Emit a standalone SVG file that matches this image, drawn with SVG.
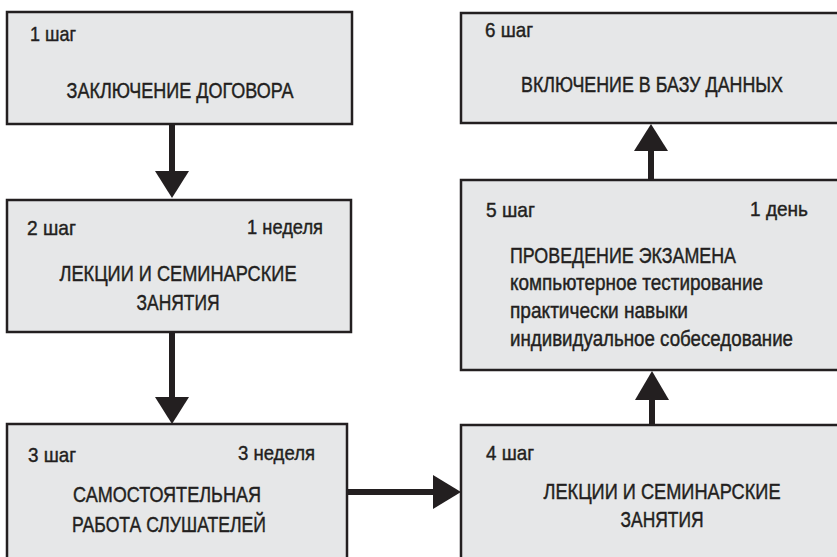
<svg xmlns="http://www.w3.org/2000/svg" width="837" height="557" viewBox="0 0 837 557">
<style>
.box{fill:#e6e7e8;stroke:#231f20;stroke-width:2.5}
.t{font-family:"Liberation Sans",Arial,sans-serif;font-size:22.5px;fill:#231f20;stroke:#231f20;stroke-width:0.45}
.s{font-family:"Liberation Sans",Arial,sans-serif;font-size:20px;fill:#231f20;stroke:#231f20;stroke-width:0.4}
.m{text-anchor:middle}
.e{text-anchor:end}
.shaft{stroke:#231f20;stroke-width:6;fill:none}
.head{fill:#231f20}
</style>
<rect width="837" height="557" fill="#ffffff"/>
<g id="step1">
<rect class="box" x="7" y="12" width="345" height="112"/>
<text class="s" transform="translate(30,41) scale(0.85,1)" textLength="54.1" lengthAdjust="spacingAndGlyphs">1 шаг</text>
<text class="t m" transform="translate(180,97.5) scale(0.8,1)" textLength="283.75" lengthAdjust="spacingAndGlyphs">ЗАКЛЮЧЕНИЕ ДОГОВОРА</text>
</g>
<g id="step2">
<rect class="box" x="7" y="200" width="344" height="132"/>
<text class="s" transform="translate(27,235) scale(0.85,1)" textLength="57.6" lengthAdjust="spacingAndGlyphs">2 шаг</text>
<text class="s e" transform="translate(323,234) scale(0.85,1)" textLength="89.4" lengthAdjust="spacingAndGlyphs">1 неделя</text>
<text class="t m" transform="translate(178,281) scale(0.8,1)" textLength="296.25" lengthAdjust="spacingAndGlyphs">ЛЕКЦИИ И СЕМИНАРСКИЕ</text>
<text class="t m" transform="translate(178,310) scale(0.8,1)" textLength="103.75" lengthAdjust="spacingAndGlyphs">ЗАНЯТИЯ</text>
</g>
<g id="step3">
<rect class="box" x="7" y="424" width="340" height="150"/>
<text class="s" transform="translate(28,462) scale(0.85,1)" textLength="56.5" lengthAdjust="spacingAndGlyphs">3 шаг</text>
<text class="s e" transform="translate(315,460) scale(0.85,1)" textLength="90.6" lengthAdjust="spacingAndGlyphs">3 неделя</text>
<text class="t m" transform="translate(167,502) scale(0.8,1)" textLength="235" lengthAdjust="spacingAndGlyphs">САМОСТОЯТЕЛЬНАЯ</text>
<text class="t m" transform="translate(169,532) scale(0.8,1)" textLength="242.5" lengthAdjust="spacingAndGlyphs">РАБОТА СЛУШАТЕЛЕЙ</text>
</g>
<g id="step4">
<rect class="box" x="461" y="425" width="400" height="150"/>
<text class="s" transform="translate(486,460) scale(0.85,1)" textLength="56.5" lengthAdjust="spacingAndGlyphs">4 шаг</text>
<text class="t m" transform="translate(662,499) scale(0.8,1)" textLength="296.25" lengthAdjust="spacingAndGlyphs">ЛЕКЦИИ И СЕМИНАРСКИЕ</text>
<text class="t m" transform="translate(662,527) scale(0.8,1)" textLength="103.75" lengthAdjust="spacingAndGlyphs">ЗАНЯТИЯ</text>
</g>
<g id="step5">
<rect class="box" x="461" y="180" width="400" height="190"/>
<text class="s" transform="translate(486,217) scale(0.85,1)" textLength="57.6" lengthAdjust="spacingAndGlyphs">5 шаг</text>
<text class="s e" transform="translate(808,216) scale(0.85,1)" textLength="68.2" lengthAdjust="spacingAndGlyphs">1 день</text>
<text class="t" transform="translate(510,263) scale(0.8,1)" textLength="282.5" lengthAdjust="spacingAndGlyphs">ПРОВЕДЕНИЕ ЭКЗАМЕНА</text>
<text class="t" transform="translate(510,290) scale(0.8,1)" textLength="316.25" lengthAdjust="spacingAndGlyphs">компьютерное тестирование</text>
<text class="t" transform="translate(510,318) scale(0.8,1)" textLength="222.5" lengthAdjust="spacingAndGlyphs">практически навыки</text>
<text class="t" transform="translate(510,346) scale(0.8,1)" textLength="353.75" lengthAdjust="spacingAndGlyphs">индивидуальное собеседование</text>
</g>
<g id="step6">
<rect class="box" x="461" y="13" width="400" height="110"/>
<text class="s" transform="translate(485,37) scale(0.85,1)" textLength="56.5" lengthAdjust="spacingAndGlyphs">6 шаг</text>
<text class="t m" transform="translate(652,92) scale(0.8,1)" textLength="327.5" lengthAdjust="spacingAndGlyphs">ВКЛЮЧЕНИЕ В БАЗУ ДАННЫХ</text>
</g>
<g id="connectors">
<line class="shaft" x1="172" y1="125" x2="172" y2="173"/>
<polygon class="head" points="155,171 189,171 172,198"/>
<line class="shaft" x1="172" y1="333" x2="172" y2="399"/>
<polygon class="head" points="155,397 189,397 172,424"/>
<line class="shaft" x1="348" y1="492" x2="435" y2="492"/>
<polygon class="head" points="433,475 433,509 461,492"/>
<line class="shaft" x1="652" y1="424" x2="652" y2="398"/>
<polygon class="head" points="635,400 669,400 652,371"/>
<line class="shaft" x1="651" y1="179" x2="651" y2="149"/>
<polygon class="head" points="634,151 668,151 651,124"/>
</g>
</svg>
